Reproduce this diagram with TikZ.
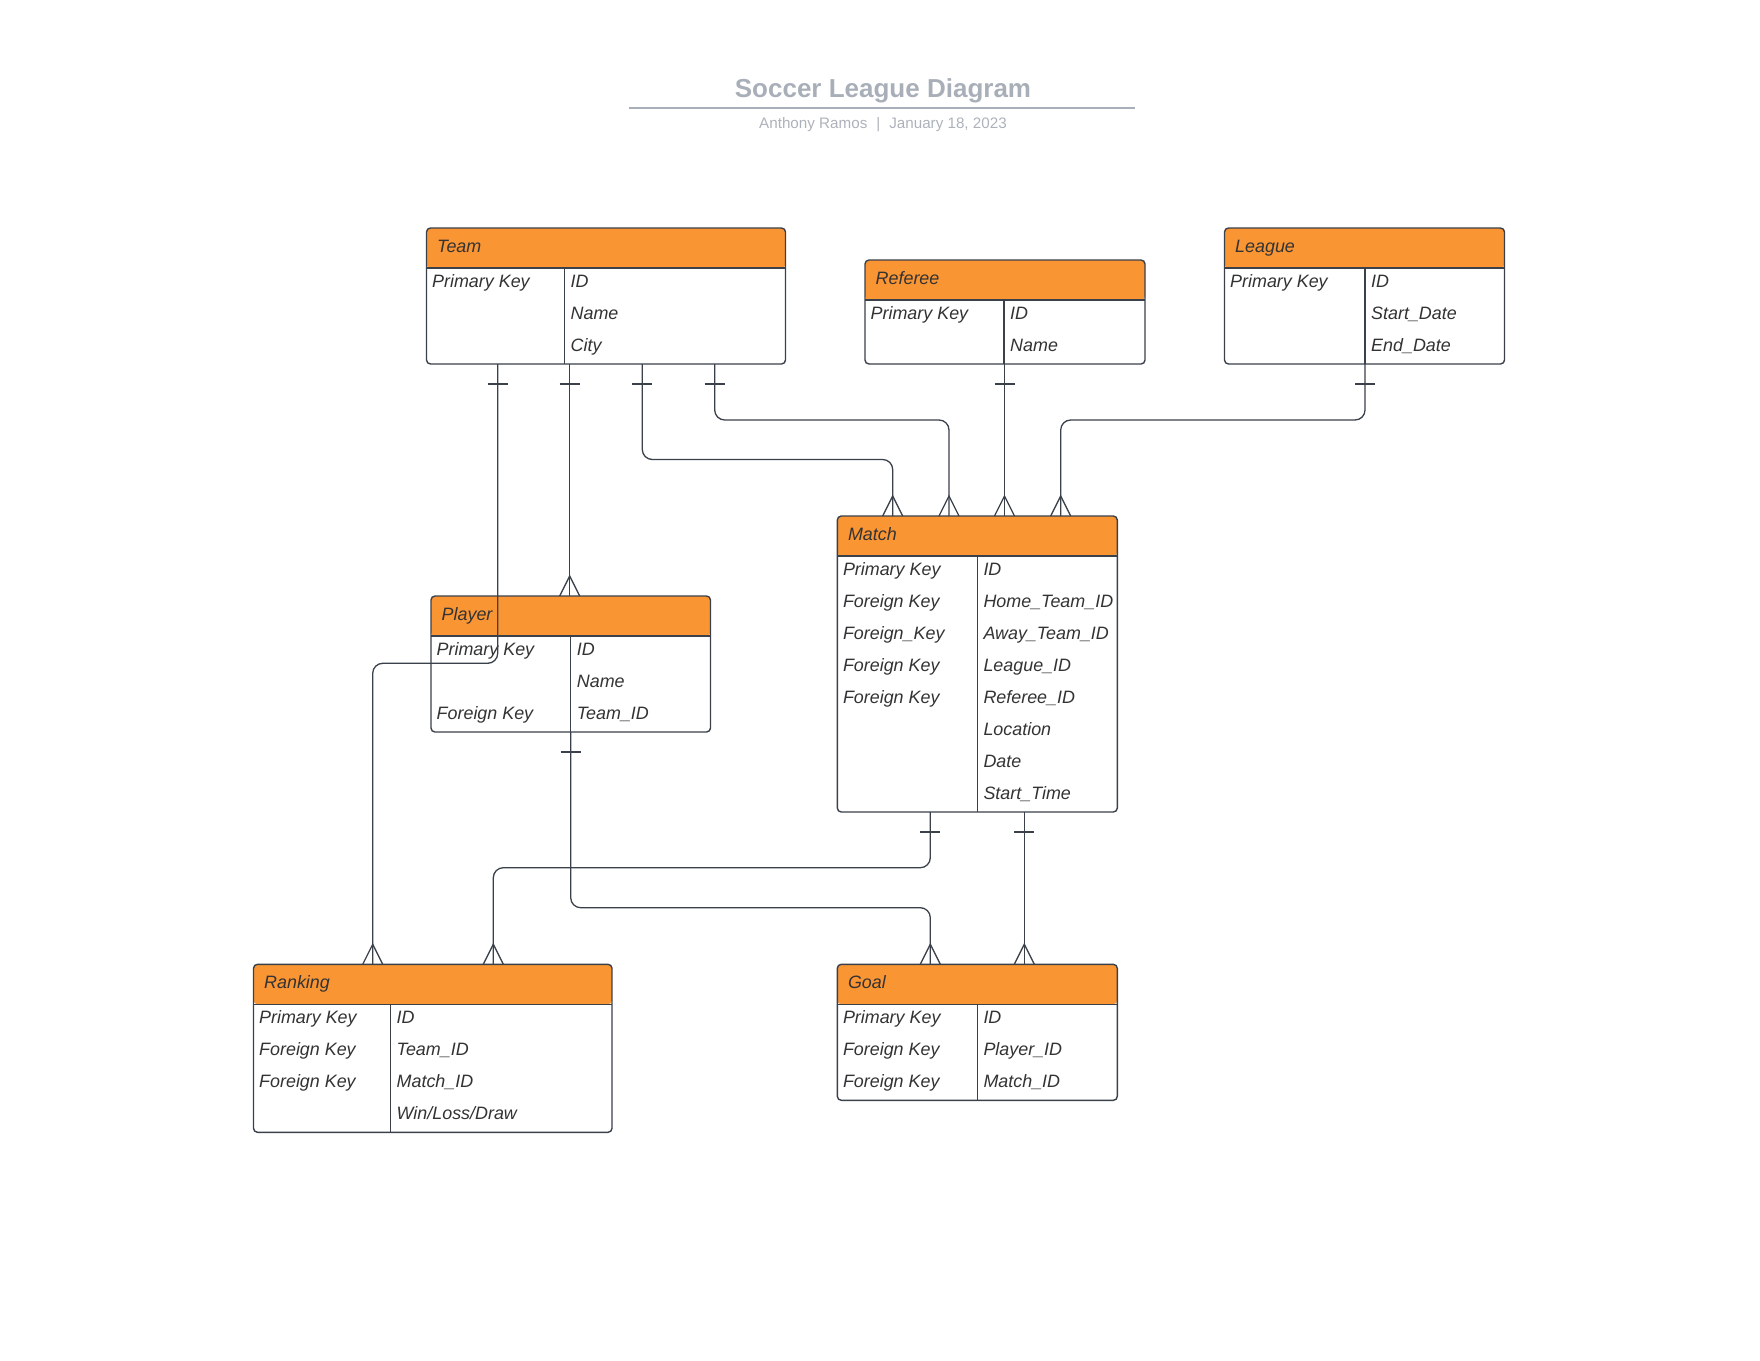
\documentclass[tikz,border=0pt]{standalone}
\usepackage{fontspec}
\setmainfont{Liberation Sans}
\usetikzlibrary{calc}

\definecolor{hdrorange}{HTML}{FA9534}
\definecolor{inkgrey}{HTML}{3A414A}
\definecolor{txtgrey}{HTML}{333333}
\definecolor{titlegrey}{HTML}{A9AFB8}
\definecolor{subgrey}{HTML}{ADB2BA}

\tikzset{
  tablebox/.style={draw=inkgrey, line width=1.4pt, rounded corners=4pt, fill=white,
    inner sep=0pt, outer sep=0pt, anchor=north west,
    path picture={\fill[hdrorange] (path picture bounding box.north west)
      rectangle ([yshift=-40pt]path picture bounding box.north east);}},
  rowline/.style={draw=inkgrey, line width=1.4pt},
  hdrtext/.style={anchor=base west, inner sep=0pt, text=txtgrey,
    font=\fontsize{17.9}{20}\selectfont\itshape},
  celltext/.style={anchor=base west, inner sep=0pt, text=txtgrey,
    font=\fontsize{17.9}{20}\selectfont\itshape},
  conn/.style={draw=inkgrey, line width=1.3pt, rounded corners=10pt},
  tipline/.style={draw=inkgrey, line width=1.3pt},
}

% #1 name, #2 x, #3 y, #4 width, #5 key column width, #6 rows,
% #7 title, #8 keys as row/text, #9 fields
\newcommand\ertable[9]{%
  \pgfmathsetmacro\tblheight{40+32*#6}%
  \node[tablebox, minimum width=#4pt, minimum height=\tblheight pt] (#1) at (#2,#3) {};
  \draw[rowline] ([yshift=-40pt]#1.north west) -- ([yshift=-40pt]#1.north east);
  \draw[rowline] ([shift={(#5pt,-40pt)}]#1.north west) -- ([xshift=#5pt]#1.south west);
  \node[hdrtext] (#1-title) at ([shift={(10.5pt,-24.3pt)}]#1.north west) {#7};
  \foreach \rowno/\celltxt in {#8}
    \node[celltext] at ([shift={(5.5pt,{-27.5pt-32pt*\rowno})}]#1.north west) {\celltxt};
  \foreach \celltxt [count=\rowno] in {#9}
    \node[celltext] at ([shift={({#5pt+6pt},{-27.5pt-32pt*\rowno})}]#1.north west) {\celltxt};
}

% many-end (crow's foot) at a point on a table's top edge
\newcommand\crowfoot[1]{%
  \draw[tipline] ([xshift=-10pt]#1) -- ([yshift=20pt]#1) -- ([xshift=10pt]#1);}
% one-end bar, 20pt below a table's bottom edge
\newcommand\onebar[1]{%
  \draw[tipline] ([shift={(-10pt,-20pt)}]#1) -- ([shift={(10pt,-20pt)}]#1);}

\begin{document}
\begin{tikzpicture}[x=1pt, y=-1pt]
  \useasboundingbox (0,0) rectangle (1760,1360);

  % heading
  \node[anchor=base, inner sep=0pt, text=titlegrey,
        font=\fontsize{26}{30}\selectfont\bfseries] (title) at (883,97)
        {Soccer League Diagram};
  \draw[titlegrey, line width=1.7pt] (628.5,107.7) -- (1134.8,107.7);
  \node[anchor=base, inner sep=0pt, text=subgrey,
        font=\fontsize{15.2}{18}\selectfont] (byline) at (883,128.5)
        {Anthony Ramos\hspace{9pt}|\hspace{9pt}January 18, 2023};

  % tables
  \ertable{team}{426.5}{228}{359}{138}{3}{Team}{1/Primary Key}{ID,Name,City}
  \ertable{referee}{865}{260}{280}{139}{2}{Referee}{1/Primary Key}{ID,Name}
  \ertable{league}{1224.5}{228}{280}{140.5}{3}{League}{1/Primary Key}{ID,Start\_Date,End\_Date}
  \ertable{match}{837.3}{516}{280}{140}{8}{Match}
    {1/Primary Key,2/Foreign Key,3/Foreign\_Key,4/Foreign Key,5/Foreign Key}
    {ID,Home\_Team\_ID,Away\_Team\_ID,League\_ID,Referee\_ID,Location,Date,Start\_Time}
  \ertable{player}{431}{596}{279.5}{139.7}{3}{Player}{1/Primary Key,3/Foreign Key}{ID,Name,Team\_ID}
  \ertable{ranking}{253.5}{964.3}{358.5}{137}{4}{Ranking}
    {1/Primary Key,2/Foreign Key,3/Foreign Key}{ID,Team\_ID,Match\_ID,Win/Loss/Draw}
  \ertable{goal}{837.3}{964.3}{280}{140}{3}{Goal}
    {1/Primary Key,2/Foreign Key,3/Foreign Key}{ID,Player\_ID,Match\_ID}

  % relationships
  % Team -> Ranking
  \draw[conn] (team.south -| 497.7,0) -- (497.7,663.3) -- (372.7,663.3) -- (ranking.north -| 372.7,0);
  \onebar{team.south -| 497.7,0}
  \crowfoot{ranking.north -| 372.7,0}
  % Team -> Player
  \draw[conn] (team.south -| 569.7,0) -- (player.north -| 569.7,0);
  \onebar{team.south -| 569.7,0}
  \crowfoot{player.north -| 569.7,0}
  % Team -> Match (home)
  \draw[conn] (team.south -| 642.3,0) -- (642.3,459.5) -- (892.7,459.5) -- (match.north -| 892.7,0);
  \onebar{team.south -| 642.3,0}
  \crowfoot{match.north -| 892.7,0}
  % Team -> Match (away)
  \draw[conn] (team.south -| 714.7,0) -- (714.7,420) -- (949,420) -- (match.north -| 949,0);
  \onebar{team.south -| 714.7,0}
  \crowfoot{match.north -| 949,0}
  % Referee -> Match
  \draw[conn] (referee.south -| 1004.5,0) -- (match.north -| 1004.5,0);
  \onebar{referee.south -| 1004.5,0}
  \crowfoot{match.north -| 1004.5,0}
  % League -> Match
  \draw[conn] (league.south -| 1365,0) -- (1365,420) -- (1060.7,420) -- (match.north -| 1060.7,0);
  \onebar{league.south -| 1365,0}
  \crowfoot{match.north -| 1060.7,0}
  % Match -> Ranking
  \draw[conn] (match.south -| 930.3,0) -- (930.3,867.7) -- (493.3,867.7) -- (ranking.north -| 493.3,0);
  \onebar{match.south -| 930.3,0}
  \crowfoot{ranking.north -| 493.3,0}
  % Player -> Goal
  \draw[conn] (player.south -| 570.7,0) -- (570.7,907.7) -- (930.3,907.7) -- (goal.north -| 930.3,0);
  \onebar{player.south -| 570.7,0}
  \crowfoot{goal.north -| 930.3,0}
  % Match -> Goal
  \draw[conn] (match.south -| 1024.3,0) -- (goal.north -| 1024.3,0);
  \onebar{match.south -| 1024.3,0}
  \crowfoot{goal.north -| 1024.3,0}
\end{tikzpicture}
\end{document}
